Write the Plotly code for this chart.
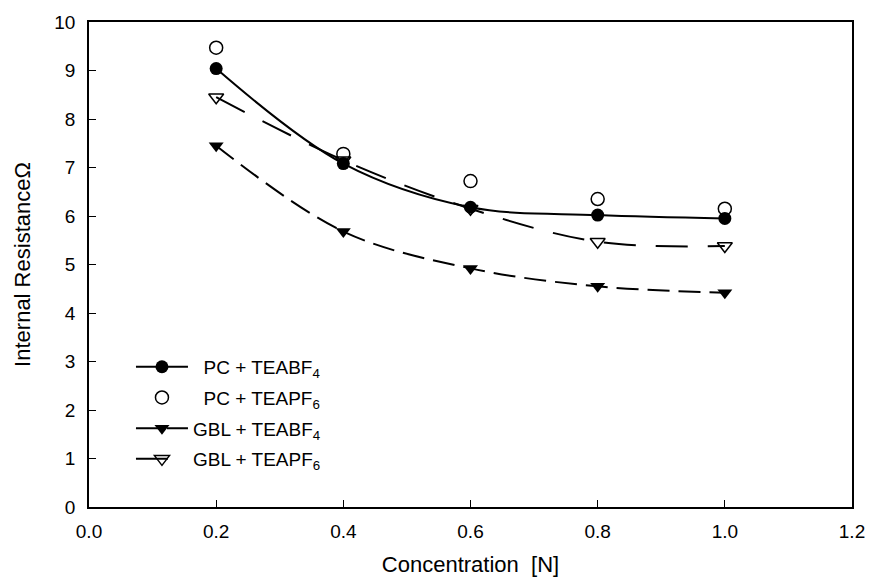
import plotly.graph_objects as go

conc = [0.2, 0.4, 0.6, 0.8, 1.0]
pc_teabf4 = [9.04, 7.08, 6.18, 6.02, 5.95]
pc_teapf6 = [9.47, 7.28, 6.72, 6.35, 6.15]
gbl_teabf4 = [7.45, 5.68, 4.92, 4.55, 4.42]
gbl_teapf6 = [8.45, 7.15, 6.15, 5.47, 5.38]

x_ticks = [0.0, 0.2, 0.4, 0.6, 0.8, 1.0, 1.2]
x_labels = ["0.0", "0.2", "0.4", "0.6", "0.8", "1.0", "1.2"]
y_ticks = list(range(0, 11))

fig = go.Figure()
fig.add_trace(go.Scatter(
    x=conc, y=pc_teabf4, mode="lines+markers", name="&nbsp;&nbsp;PC + TEABF<sub>4</sub>",
    legendgroup="a",
    line=dict(color="black", width=2, shape="spline", dash="solid"),
    marker=dict(symbol="circle", size=13, color="black")))
fig.add_trace(go.Scatter(
    x=conc, y=pc_teapf6, mode="markers", name="&nbsp;&nbsp;PC + TEAPF<sub>6</sub>",
    legendgroup="b",
    marker=dict(symbol="circle-open", size=13, color="black", line=dict(width=1.5))))
fig.add_trace(go.Scatter(
    x=conc, y=gbl_teabf4, mode="lines+markers", name="GBL + TEABF<sub>4</sub>",
    legendgroup="c",
    line=dict(color="black", width=2, shape="spline", dash="22px,9px"),
    marker=dict(symbol="triangle-down", size=13, color="black")))
fig.add_trace(go.Scatter(
    x=conc, y=gbl_teapf6, mode="lines+markers", name="GBL + TEAPF<sub>6</sub>",
    legendgroup="d",
    line=dict(color="black", width=2, shape="spline", dash="32px,20px"),
    marker=dict(symbol="triangle-down-open", size=13, color="black", line=dict(width=1.5))))

axis_common = dict(
    showline=True, linecolor="black", linewidth=1.5, mirror=True,
    ticks="inside", ticklen=7, tickcolor="black", showgrid=False, zeroline=False,
    tickfont=dict(family="Liberation Sans, Arial", size=19, color="black"),
)

fig.update_layout(
    width=877, height=585,
    margin=dict(l=89, r=18, t=17, b=78),
    paper_bgcolor="white", plot_bgcolor="white",
    font=dict(family="Liberation Sans, Arial", color="black"),
    xaxis=dict(range=[0, 1.2], tickvals=x_ticks, ticktext=x_labels,
               ticklabelstandoff=6,
               title=dict(text="Concentration&nbsp;&nbsp;[N]", font=dict(size=22), standoff=16),
               **axis_common),
    yaxis=dict(range=[0, 10], tickvals=y_ticks, ticklabelstandoff=8,
               title=dict(text="Internal ResistanceΩ", font=dict(size=22), standoff=18),
               **axis_common),
    showlegend=True,
    legend=dict(x=0.055, y=0.328, xanchor="left", yanchor="top",
                bgcolor="rgba(0,0,0,0)", font=dict(size=19),
                traceorder="grouped", tracegroupgap=3, itemwidth=52),
)

fig.write_html("out.html", config={"displayModeBar": False},
               post_script="document.body.style.margin='0';")
